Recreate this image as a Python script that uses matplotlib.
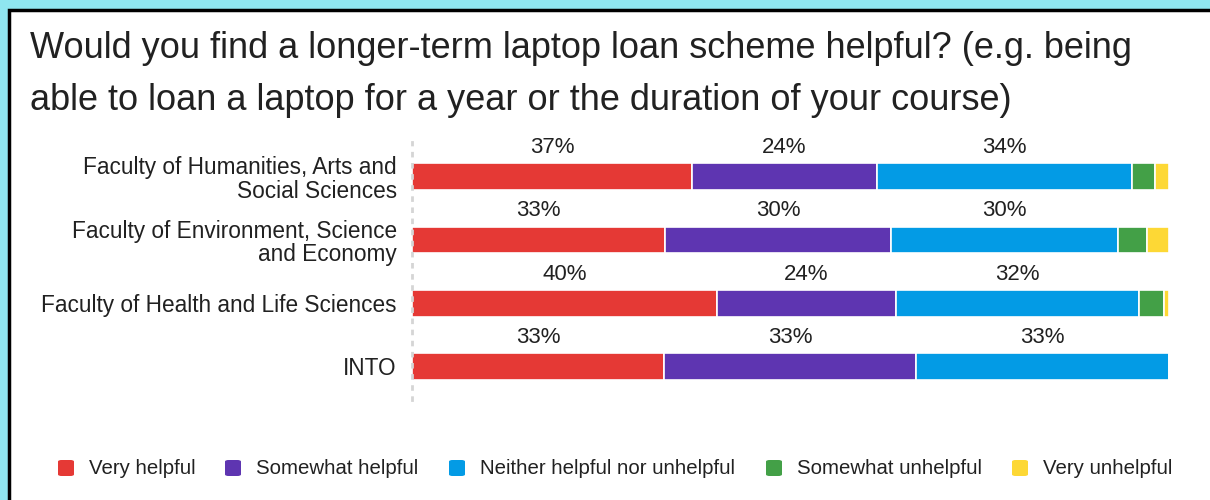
import numpy as np
import matplotlib.pyplot as plt
from matplotlib.patches import Rectangle, FancyBboxPatch

plt.rcParams['font.family'] = ['Liberation Sans', 'DejaVu Sans']

faculties = ['Faculty of Humanities, Arts and\nSocial Sciences',
             'Faculty of Environment, Science\nand Economy',
             'Faculty of Health and Life Sciences',
             'INTO']
answers = ['Very helpful', 'Somewhat helpful', 'Neither helpful nor unhelpful',
           'Somewhat unhelpful', 'Very unhelpful']
colors = ['#E53935', '#5E35B1', '#039BE5', '#43A047', '#FDD835']

# share of answers per faculty (%), one list per answer
very_helpful = [37.0, 33.4, 40.3, 33.3]
somewhat_helpful = [24.4, 29.9, 23.6, 33.3]
neither = [33.7, 30.0, 32.2, 33.4]
somewhat_unhelpful = [3.0, 3.8, 3.2, 0.0]
very_unhelpful = [1.9, 2.9, 0.7, 0.0]

series = [very_helpful, somewhat_helpful, neither, somewhat_unhelpful, very_unhelpful]

W, H = 1210, 500
fig = plt.figure(figsize=(W / 100, H / 100), dpi=100)
fig.patch.set_facecolor('#8FE6F0')

# white card with black frame
card = Rectangle((9 / W, -0.01), 1, 1.01 - 10 / H, transform=fig.transFigure,
                 facecolor='white', edgecolor='black', linewidth=2.5, zorder=-10)
fig.patches.append(card)

fig.text(30 / W, 1 - 48 / H, 'Would you find a longer-term laptop loan scheme helpful? (e.g. being',
         fontsize=26, color='#212121', va='center', ha='left')
fig.text(30 / W, 1 - 100 / H, 'able to loan a laptop for a year or the duration of your course)',
         fontsize=26, color='#212121', va='center', ha='left')

ax_left, ax_right = 412, 1169
ax_top, ax_bot = 142, 400
ax = fig.add_axes([ax_left / W, 1 - ax_bot / H, (ax_right - ax_left) / W, (ax_bot - ax_top) / H])
ax.set_facecolor('none')

y = np.arange(len(faculties))
bar_h = 0.425
left = np.zeros(len(faculties))
for vals, col in zip(series, colors):
    vals = np.array(vals)
    ax.barh(y, vals, left=left, height=bar_h, color=col, edgecolor='white', linewidth=1.2)
    for i, v in enumerate(vals):
        if v >= 10:
            ax.text(left[i] + v / 2, i - bar_h / 2 - 0.25, f'{v:.0f}%', ha='center', va='center',
                    fontsize=16, color='#212121')
    left += vals

ax.set_xlim(0, 100)
ax.set_ylim(3.53, -0.55)
ax.set_yticks(y)
ax.set_yticklabels(faculties, fontsize=16.3, color='#212121', linespacing=1.05)
ax.tick_params(axis='y', length=0, pad=11)
ax.set_xticks([])
for s in ['top', 'right', 'bottom']:
    ax.spines[s].set_visible(False)
ax.spines['left'].set_linestyle((0, (1, 3)))
ax.spines['left'].set_color('#D5D5D5')
ax.spines['left'].set_linewidth(2)

# legend drawn along the bottom
leg_y = 1 - 468 / H
sq_x = [58, 225, 449, 766, 1012]
for x0, lab, col in zip(sq_x, answers, colors):
    fig.patches.append(FancyBboxPatch((x0 / W, leg_y - 8 / H), 16 / W, 16 / H,
                                      boxstyle='round,pad=0,rounding_size=0.003',
                                      transform=fig.transFigure, facecolor=col,
                                      edgecolor='none'))
    fig.text((x0 + 31) / W, leg_y, lab, fontsize=14.7, color='#212121', va='center', ha='left')

fig.savefig('out.png', dpi=100)
